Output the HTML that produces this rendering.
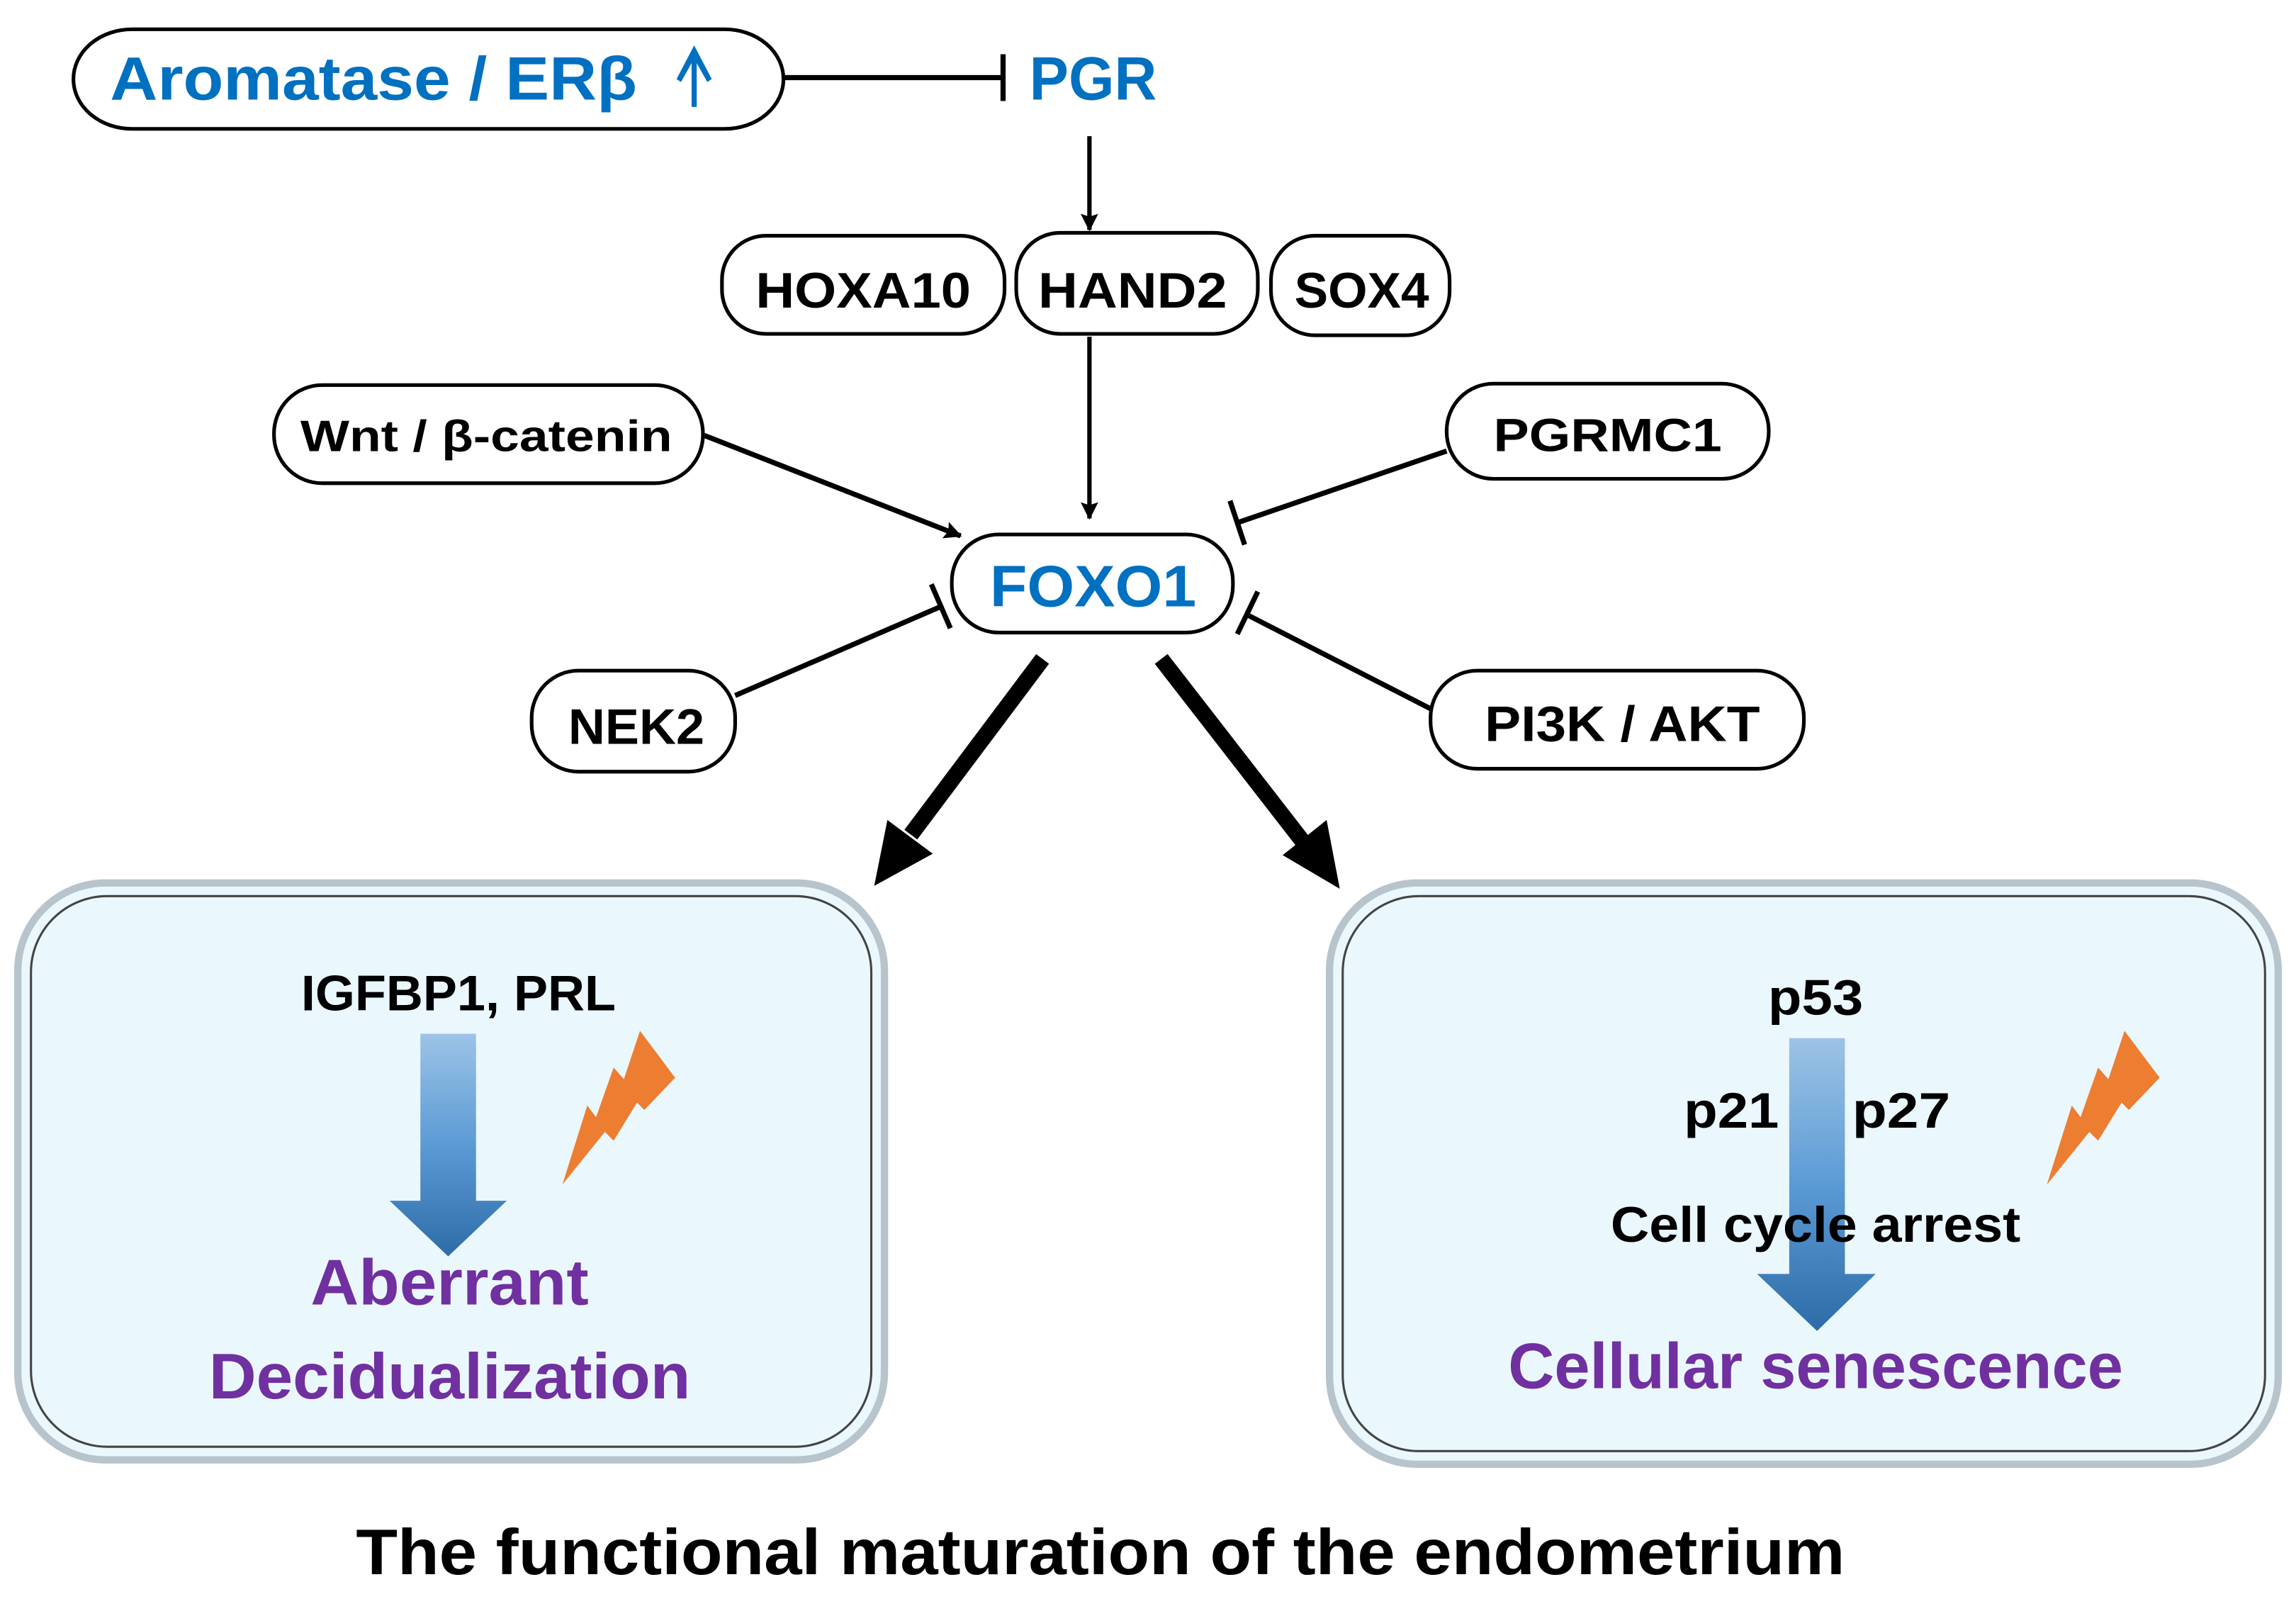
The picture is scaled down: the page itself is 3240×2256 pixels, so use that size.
<!DOCTYPE html>
<html><head><meta charset="utf-8"><style>
html,body{margin:0;padding:0;background:#fff;}
svg{display:block;}
text{font-family:"Liberation Sans",sans-serif;font-weight:bold;}
</style></head><body>
<svg width="3240" height="2256" viewBox="0 0 1568 1092" xmlns="http://www.w3.org/2000/svg">
<defs>
<linearGradient id="bg" x1="0" y1="0" x2="0" y2="1">
<stop offset="0" stop-color="#9DC3E6"/><stop offset="0.5" stop-color="#5B9BD5"/><stop offset="1" stop-color="#2E6CA8"/>
</linearGradient>
<marker id="ah" markerWidth="12" markerHeight="12" refX="11" refY="6" orient="auto" markerUnits="userSpaceOnUse" viewBox="0 0 12 12">
<path d="M0,0 L12,6 L0,12 L2,6 z" fill="#000"/>
</marker>
</defs>
<rect width="1568" height="1092" fill="#fff"/>

<!-- top -->
<rect x="50" y="20" width="485" height="68" rx="40" fill="#fff" stroke="#000" stroke-width="2.5"/>
<text x="75" y="68" font-size="42" fill="#0070C0" textLength="360" lengthAdjust="spacingAndGlyphs">Aromatase / ERβ</text>
<line x1="474" y1="34" x2="474" y2="73" stroke="#0070C0" stroke-width="3.5"/>
<polygon points="474,31 486,54 483,56 474,40 465,56 462,54" fill="#0070C0"/>
<line x1="535" y1="53" x2="685" y2="53" stroke="#000" stroke-width="3.5"/>
<line x1="685" y1="37" x2="685" y2="69" stroke="#000" stroke-width="3.5"/>
<text x="703" y="68" font-size="42" fill="#0070C0" textLength="87" lengthAdjust="spacingAndGlyphs">PGR</text>
<line x1="744" y1="93" x2="744" y2="157" stroke="#000" stroke-width="3" marker-end="url(#ah)"/>

<rect x="493" y="161" width="193" height="67" rx="30" fill="#fff" stroke="#000" stroke-width="2.5"/>
<text x="516" y="210" font-size="34" textLength="147" lengthAdjust="spacingAndGlyphs">HOXA10</text>
<rect x="694" y="159" width="165" height="69" rx="30" fill="#fff" stroke="#000" stroke-width="2.5"/>
<text x="709" y="210" font-size="34" textLength="129" lengthAdjust="spacingAndGlyphs">HAND2</text>
<rect x="868" y="161" width="122" height="68" rx="30" fill="#fff" stroke="#000" stroke-width="2.5"/>
<text x="884" y="210" font-size="34" textLength="92" lengthAdjust="spacingAndGlyphs">SOX4</text>
<line x1="744" y1="230" x2="744" y2="354" stroke="#000" stroke-width="3" marker-end="url(#ah)"/>

<rect x="187" y="263" width="293" height="67" rx="33" fill="#fff" stroke="#000" stroke-width="2.5"/>
<text x="205" y="308" font-size="30" textLength="254" lengthAdjust="spacingAndGlyphs">Wnt / β-catenin</text>
<line x1="480" y1="297" x2="656" y2="366" stroke="#000" stroke-width="3.5" marker-end="url(#ah)"/>

<rect x="988" y="262" width="220" height="65" rx="32" fill="#fff" stroke="#000" stroke-width="2.5"/>
<text x="1020" y="308" font-size="32" textLength="156" lengthAdjust="spacingAndGlyphs">PGRMC1</text>
<line x1="988" y1="308" x2="845" y2="357" stroke="#000" stroke-width="3.5"/>
<line x1="840" y1="342" x2="850" y2="372" stroke="#000" stroke-width="3.5"/>

<rect x="650" y="365" width="192" height="67" rx="32" fill="#fff" stroke="#000" stroke-width="2.5"/>
<text x="676" y="414" font-size="40" fill="#0070C0" textLength="141" lengthAdjust="spacingAndGlyphs">FOXO1</text>

<rect x="363" y="458" width="139" height="69" rx="32" fill="#fff" stroke="#000" stroke-width="2.5"/>
<text x="388" y="508" font-size="34" textLength="93" lengthAdjust="spacingAndGlyphs">NEK2</text>
<line x1="502" y1="475" x2="643" y2="414" stroke="#000" stroke-width="3.5"/>
<line x1="636" y1="399" x2="649" y2="429" stroke="#000" stroke-width="3.5"/>

<rect x="977" y="458" width="255" height="67" rx="32" fill="#fff" stroke="#000" stroke-width="2.5"/>
<text x="1014" y="506" font-size="34" textLength="188" lengthAdjust="spacingAndGlyphs">PI3K / AKT</text>
<line x1="977" y1="484" x2="852" y2="420" stroke="#000" stroke-width="3.5"/>
<line x1="845" y1="433" x2="859" y2="404" stroke="#000" stroke-width="3.5"/>

<!-- thick arrows -->
<line x1="712" y1="450" x2="622" y2="570" stroke="#000" stroke-width="11"/>
<polygon points="597,605 606,560 637,583" fill="#000"/>
<line x1="793" y1="450" x2="890" y2="575" stroke="#000" stroke-width="11"/>
<polygon points="915,607 876,584 906,560" fill="#000"/>

<!-- left box -->
<rect x="12" y="603" width="592" height="394" rx="60" fill="#EAF7FD" stroke="#b8c4cc" stroke-width="5"/>
<rect x="21" y="612" width="574" height="376" rx="52" fill="none" stroke="#444" stroke-width="1.5"/>
<text x="313" y="690" font-size="34" text-anchor="middle" textLength="215" lengthAdjust="spacingAndGlyphs">IGFBP1, PRL</text>
<polygon points="287,706 325,706 325,820 346,820 306,858 266,820 287,820" fill="url(#bg)"/>
<polygon points="437,704 461,736 440,758 435,753 419,779 413,773 384,809 401,755 407,763 419,729 426,737" fill="#ED7D31"/>
<text x="307" y="891" font-size="44" fill="#7030A0" text-anchor="middle" textLength="190" lengthAdjust="spacingAndGlyphs">Aberrant</text>
<text x="307" y="955" font-size="44" fill="#7030A0" text-anchor="middle" textLength="329" lengthAdjust="spacingAndGlyphs">Decidualization</text>

<!-- right box -->
<rect x="908" y="603" width="648" height="397" rx="60" fill="#EAF7FD" stroke="#b8c4cc" stroke-width="5"/>
<rect x="917" y="612" width="630" height="379" rx="52" fill="none" stroke="#444" stroke-width="1.5"/>
<polygon points="1222,709 1260,709 1260,870 1281,870 1241,909 1200,870 1222,870" fill="url(#bg)"/>
<text x="1240" y="693" font-size="34" text-anchor="middle" textLength="65" lengthAdjust="spacingAndGlyphs">p53</text>
<text x="1150" y="770" font-size="34" textLength="65" lengthAdjust="spacingAndGlyphs">p21</text>
<text x="1265" y="770" font-size="34" textLength="67" lengthAdjust="spacingAndGlyphs">p27</text>
<text x="1100" y="848" font-size="34" textLength="280" lengthAdjust="spacingAndGlyphs">Cell cycle arrest</text>
<polygon points="1451,704 1475,736 1454,758 1449,753 1433,779 1427,773 1398,809 1415,755 1421,763 1433,729 1440,737" fill="#ED7D31"/>
<text x="1240" y="948" font-size="44" fill="#7030A0" text-anchor="middle" textLength="420" lengthAdjust="spacingAndGlyphs">Cellular senescence</text>

<text x="243" y="1075" font-size="44" textLength="1017" lengthAdjust="spacingAndGlyphs">The functional maturation of the endometrium</text>
</svg>
</body></html>
